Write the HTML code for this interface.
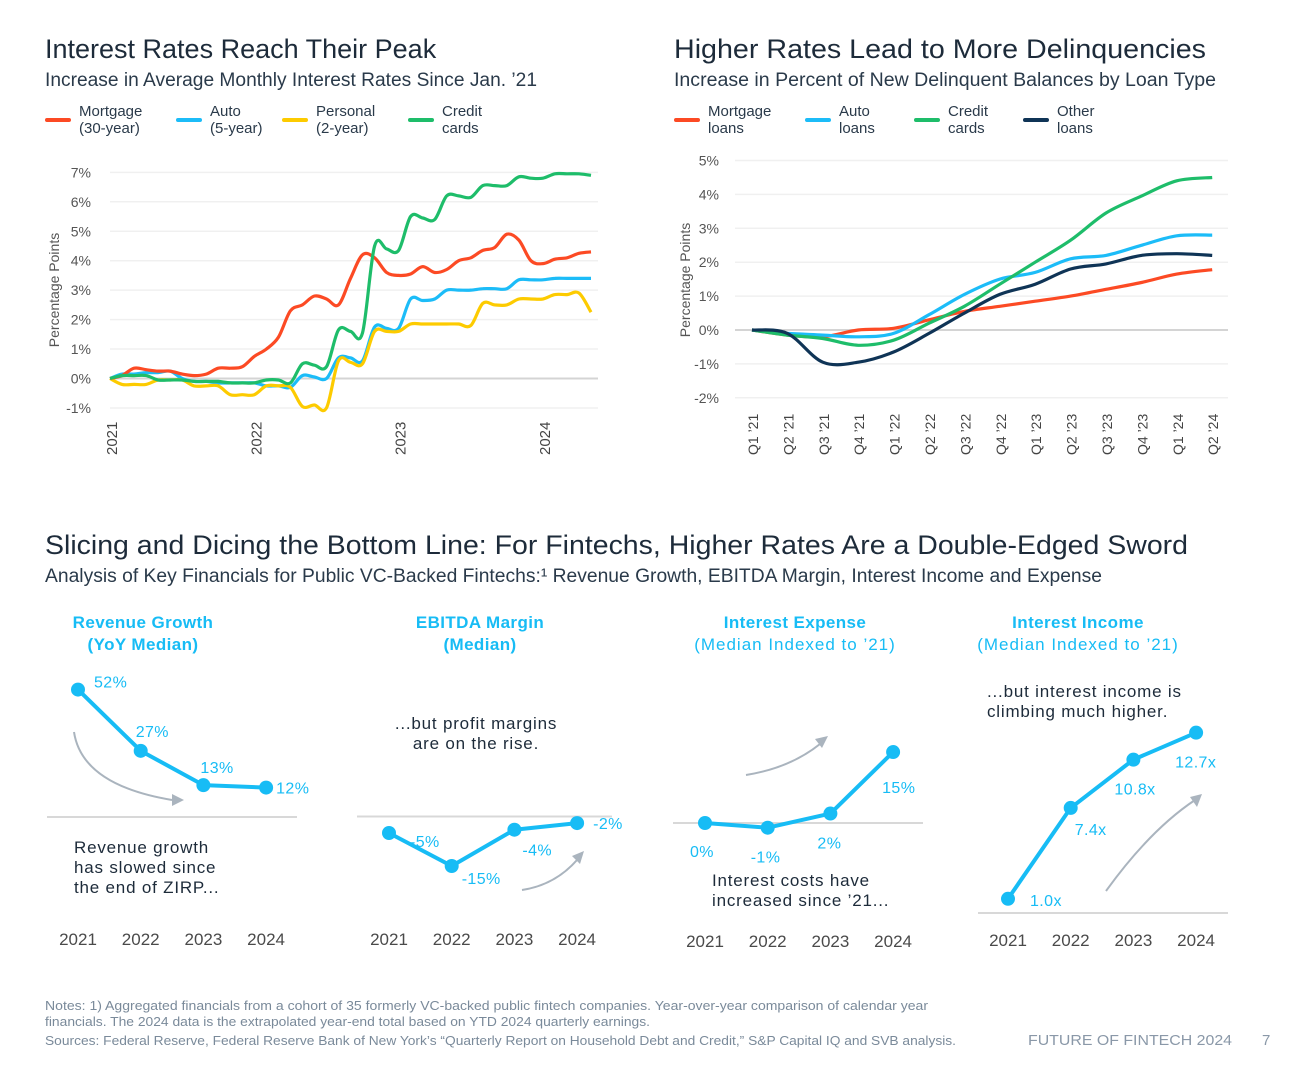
<!DOCTYPE html>
<html><head><meta charset="utf-8"><style>
html,body{margin:0;padding:0;background:#fff;}
svg{display:block;font-family:"Liberation Sans",sans-serif;}
</style></head><body>
<svg id="s" width="1292" height="1075" viewBox="0 0 1292 1075" xmlns="http://www.w3.org/2000/svg">
<g id="static">
<text x="45" y="58" font-size="27" fill="#1d2b3a">Interest Rates Reach Their Peak</text>
<text x="45" y="86" font-size="19" fill="#2a3a4a" textLength="492" lengthAdjust="spacingAndGlyphs">Increase in Average Monthly Interest Rates Since Jan. ’21</text>
<text x="674" y="58" font-size="27" fill="#1d2b3a" textLength="532" lengthAdjust="spacingAndGlyphs">Higher Rates Lead to More Delinquencies</text>
<text x="674" y="86" font-size="19" fill="#2a3a4a" textLength="542" lengthAdjust="spacingAndGlyphs">Increase in Percent of New Delinquent Balances by Loan Type</text>
<text x="45" y="554" font-size="27" fill="#1d2b3a" textLength="1143" lengthAdjust="spacingAndGlyphs">Slicing and Dicing the Bottom Line: For Fintechs, Higher Rates Are a Double-Edged Sword</text>
<text x="45" y="582" font-size="19" fill="#2a3a4a" textLength="1057" lengthAdjust="spacingAndGlyphs">Analysis of Key Financials for Public VC-Backed Fintechs:¹ Revenue Growth, EBITDA Margin, Interest Income and Expense</text>
<text x="45" y="1010" font-size="12.5" fill="#7a8a9a" textLength="883" lengthAdjust="spacingAndGlyphs">Notes: 1) Aggregated financials from a cohort of 35 formerly VC-backed public fintech companies. Year-over-year comparison of calendar year</text>
<text x="45" y="1026" font-size="12.5" fill="#7a8a9a" textLength="605" lengthAdjust="spacingAndGlyphs">financials. The 2024 data is the extrapolated year-end total based on YTD 2024 quarterly earnings.</text>
<text x="45" y="1045" font-size="12.5" fill="#7a8a9a" textLength="911" lengthAdjust="spacingAndGlyphs">Sources: Federal Reserve, Federal Reserve Bank of New York’s “Quarterly Report on Household Debt and Credit,” S&amp;P Capital IQ and SVB analysis.</text>
<text x="1028" y="1045" font-size="15" fill="#8a98a8" textLength="204" lengthAdjust="spacingAndGlyphs">FUTURE OF FINTECH 2024</text>
<text x="1262" y="1045" font-size="15" fill="#8a98a8">7</text>
</g>
<g id="left"></g><g id="right"></g><g id="bottom"></g>
</svg>
<script>
// ---------- Left chart data (monthly, Jan 2021 - May 2024) ----------
const leftTicks = [-1,0,1,2,3,4,5,6,7];
const leftYears = ["2021","2022","2023","2024"];
const mortgageRate = [0,0.1,0.35,0.3,0.25,0.25,0.15,0.1,0.15,0.35,0.35,0.4,0.75,1.0,1.4,2.3,2.5,2.8,2.7,2.5,3.4,4.2,4.1,3.6,3.5,3.55,3.8,3.6,3.7,4.0,4.1,4.35,4.45,4.9,4.7,4.0,3.9,4.05,4.1,4.25,4.3];
const autoRate = [0,0.15,0.15,0.2,0.2,0.25,0.0,-0.1,-0.1,-0.15,-0.15,-0.15,-0.15,-0.25,-0.25,-0.3,0.1,0.05,0.0,0.7,0.7,0.6,1.75,1.7,1.7,2.7,2.65,2.7,3.0,3.0,3.0,3.05,3.05,3.05,3.35,3.35,3.35,3.4,3.4,3.4,3.4];
const personalRate = [0,-0.2,-0.2,-0.2,-0.05,-0.05,-0.05,-0.25,-0.25,-0.25,-0.55,-0.55,-0.55,-0.25,-0.25,-0.3,-0.95,-0.9,-1.0,0.6,0.55,0.5,1.6,1.6,1.6,1.85,1.85,1.85,1.85,1.85,1.8,2.55,2.5,2.5,2.7,2.7,2.7,2.85,2.85,2.9,2.25];
const creditRate = [0,0.1,0.1,0.1,-0.05,-0.05,-0.05,-0.1,-0.1,-0.1,-0.15,-0.15,-0.15,-0.05,-0.05,-0.15,0.5,0.45,0.4,1.65,1.6,1.55,4.5,4.4,4.35,5.5,5.45,5.4,6.2,6.2,6.15,6.55,6.55,6.55,6.85,6.8,6.8,6.95,6.95,6.95,6.9];
// ---------- Right chart data (quarterly) ----------
const quarters = ["Q1 ’21","Q2 ’21","Q3 ’21","Q4 ’21","Q1 ’22","Q2 ’22","Q3 ’22","Q4 ’22","Q1 ’23","Q2 ’23","Q3 ’23","Q4 ’23","Q1 ’24","Q2 ’24"];
const rightTicks = [-2,-1,0,1,2,3,4,5];
const mortgageDelq = [0,-0.15,-0.2,0,0.05,0.3,0.55,0.7,0.85,1.0,1.2,1.4,1.65,1.78];
const autoDelq = [0,-0.1,-0.15,-0.2,-0.1,0.45,1.05,1.5,1.7,2.1,2.2,2.5,2.78,2.8];
const creditDelq = [0,-0.15,-0.25,-0.45,-0.3,0.2,0.7,1.35,2.0,2.65,3.45,3.95,4.4,4.5];
const otherDelq = [0,-0.1,-0.95,-0.95,-0.65,-0.1,0.5,1.05,1.35,1.8,1.95,2.2,2.25,2.2];
// ---------- Bottom panels ----------
const panelYears = ["2021","2022","2023","2024"];
const revenueGrowth = [52,27,13,12];
const revenueLabels = ["52%","27%","13%","12%"];
const ebitdaMargin = [-5,-15,-4,-2];
const ebitdaLabels = ["-5%","-15%","-4%","-2%"];
const interestExpense = [0,-1,2,15];
const expenseLabels = ["0%","-1%","2%","15%"];
const interestIncome = [1.0,7.4,10.8,12.7];
const incomeLabels = ["1.0x","7.4x","10.8x","12.7x"];

const NS="http://www.w3.org/2000/svg";
function mk(parent,tag,attrs,text){const e=document.createElementNS(NS,tag);for(const k in attrs)e.setAttribute(k,attrs[k]);if(text!==undefined)e.textContent=text;parent.appendChild(e);return e;}
function smoothPath(pts){let d="M"+pts[0][0]+","+pts[0][1];for(let i=0;i<pts.length-1;i++){const p0=pts[i-1]||pts[i],p1=pts[i],p2=pts[i+1],p3=pts[i+2]||p2;const c1x=p1[0]+(p2[0]-p0[0])/6,c1y=p1[1]+(p2[1]-p0[1])/6,c2x=p2[0]-(p3[0]-p1[0])/6,c2y=p2[1]-(p3[1]-p1[1])/6;d+=" C"+c1x.toFixed(1)+","+c1y.toFixed(1)+" "+c2x.toFixed(1)+","+c2y.toFixed(1)+" "+p2[0].toFixed(1)+","+p2[1].toFixed(1);}return d;}

const RED="#fc4a24",BLUE="#1cbcf8",YEL="#fdcb00",GRN="#1ebd6a",NAVY="#0f3456",LB="#17bcf5";

function legend(g,x,y,color,l1,l2,name){
  const e=mk(g,"g",{});
  
  
  mk(e,"line",{x1:x,y1:y,x2:x+22,y2:y,stroke:color,"stroke-width":4,"stroke-linecap":"round"});
  mk(e,"text",{x:x+32,y:y-4,"font-size":15,fill:"#2a3a4a"},l1);
  mk(e,"text",{x:x+32,y:y+13,"font-size":15,fill:"#2a3a4a"},l2);
}

// ---------- Left chart ----------
(function(){
  const g=document.getElementById("left");
  const x0=110,perYear=144.3,y0=378.5,perPt=29.45;
  const xs=i=>x0+perYear*i/12, ys=v=>y0-v*perPt;
  legend(g,47,120,RED,"Mortgage","(30-year)","legend-mortgage");
  legend(g,178,120,BLUE,"Auto","(5-year)","legend-auto");
  legend(g,284,120,YEL,"Personal","(2-year)","legend-personal");
  legend(g,410,120,GRN,"Credit","cards","legend-credit-cards");
  leftTicks.forEach(t=>{
    const l=mk(g,"line",{x1:x0,x2:598,y1:ys(t),y2:ys(t),stroke:t===0?"#d4d4d4":"#f0f0f0","stroke-width":t===0?2:1.5});
    
    
    const tx=mk(g,"text",{x:91,y:ys(t)+5,"font-size":14,fill:"#555","text-anchor":"end"},t+"%");
    
    
  });
  const yt=mk(g,"text",{transform:"translate(59,290) rotate(-90)","font-size":14,fill:"#555","text-anchor":"middle"},"Percentage Points");
  
  
  leftYears.forEach((y,i)=>{
    const t=mk(g,"text",{transform:"translate("+(x0+perYear*i+7)+",455) rotate(-90)","font-size":15,fill:"#444"},y);
    
    
  });
  [[autoRate,BLUE,"auto-line"],[personalRate,YEL,"personal-line"],[mortgageRate,RED,"mortgage-line"],[creditRate,GRN,"credit-cards-line"]].forEach(s=>{
    const p=mk(g,"path",{d:smoothPath(s[0].map((v,i)=>[xs(i),ys(v)])),fill:"none",stroke:s[1],"stroke-width":3.2,"stroke-linejoin":"round"});
    
    
  });
})();

// ---------- Right chart ----------
(function(){
  const g=document.getElementById("right");
  const x0=752,step=35.4,y0=330,perPt=33.9;
  const xs=i=>x0+step*i, ys=v=>y0-v*perPt;
  legend(g,676,120,RED,"Mortgage","loans","legend-mortgage-loans");
  legend(g,807,120,BLUE,"Auto","loans","legend-auto-loans");
  legend(g,916,120,GRN,"Credit","cards","legend-credit-cards-loans");
  legend(g,1025,120,NAVY,"Other","loans","legend-other-loans");
  rightTicks.forEach(t=>{
    const l=mk(g,"line",{x1:735,x2:1228,y1:ys(t),y2:ys(t),stroke:t===0?"#d4d4d4":"#f0f0f0","stroke-width":t===0?2:1.5});
    
    
    const tx=mk(g,"text",{x:719,y:ys(t)+5,"font-size":14,fill:"#555","text-anchor":"end"},t===0?"0%":t+"%");
    
    
  });
  const yt=mk(g,"text",{transform:"translate(690,280) rotate(-90)","font-size":14,fill:"#555","text-anchor":"middle"},"Percentage Points");
  
  
  quarters.forEach((q,i)=>{
    const t=mk(g,"text",{transform:"translate("+(xs(i)+6)+",455) rotate(-90)","font-size":14,fill:"#444"},q);
    
    
  });
  [[mortgageDelq,RED,"mortgage-loans-line"],[autoDelq,BLUE,"auto-loans-line"],[creditDelq,GRN,"credit-cards-delinquency-line"],[otherDelq,NAVY,"other-loans-line"]].forEach(s=>{
    const p=mk(g,"path",{d:smoothPath(s[0].map((v,i)=>[xs(i),ys(v)])),fill:"none",stroke:s[1],"stroke-width":3.2});
    
    
  });
})();

// ---------- Bottom panels ----------
(function(){
  const g=document.getElementById("bottom");
  function panel(cfg){
    const pg=mk(g,"g",{});
    
    
    const t1=mk(pg,"text",{x:cfg.cx,y:628,"font-size":17,fill:LB,"text-anchor":"middle","font-weight":"bold","letter-spacing":"0.4"},cfg.t1);
    
    
    const t2=mk(pg,"text",{x:cfg.cx,y:650,"font-size":17,fill:LB,"text-anchor":"middle","font-weight":cfg.t2bold?"bold":"normal","letter-spacing":cfg.t2bold?"0.4":"1"},cfg.t2);
    
    
    const bl=mk(pg,"line",{x1:cfg.bx1,x2:cfg.bx2,y1:cfg.base,y2:cfg.base,stroke:"#d8d8d8","stroke-width":2});
    
    
    const xs=i=>cfg.x0+62.7*i, ys=v=>cfg.base-(v-cfg.zero)*cfg.k;
    const pts=cfg.vals.map((v,i)=>[xs(i),ys(v)]);
    const ln=mk(pg,"polyline",{points:pts.map(p=>p.join(",")).join(" "),fill:"none",stroke:LB,"stroke-width":4,"stroke-linejoin":"round"});
    
    
    pts.forEach((p,i)=>{
      const c=mk(pg,"circle",{cx:p[0],cy:p[1],r:7,fill:LB});
      
      
      const lb=mk(pg,"text",{x:p[0]+cfg.lo[i][0],y:p[1]+cfg.lo[i][1],"font-size":16,fill:LB,"letter-spacing":"0.4"},cfg.labels[i]);
      
      
      const yr=mk(pg,"text",{x:p[0],y:cfg.yy,"font-size":17,fill:"#4a4a4a","text-anchor":"middle"},panelYears[i]);
      
      
    });
    cfg.note.forEach((n,i)=>{
      const nt=mk(pg,"text",{x:cfg.nx,y:cfg.ny+i*20,"font-size":17,fill:"#1d2b3a","text-anchor":cfg.na||"start","letter-spacing":"0.8"},n);
      
      
    });
    const ar=mk(pg,"path",{d:cfg.arrow,fill:"none",stroke:"#aab4be","stroke-width":2});
    
    
    const ah=mk(pg,"path",{d:cfg.head,fill:"#aab4be"});
    
    
  }
  panel({name:"revenue-growth-panel",cx:143,t1:"Revenue Growth",t2:"(YoY Median)",t2bold:true,bx1:47,bx2:297,base:817,zero:0,k:2.45,x0:78,vals:revenueGrowth,labels:revenueLabels,
    lo:[[16,-2],[-5,-14],[-3,-12],[10,6]],yy:945,note:["Revenue growth","has slowed since","the end of ZIRP..."],nx:74,ny:853,
    arrow:"M74,732 Q82,785 172,800",head:"M184,800 L172,794 L172,806 Z"});
  panel({name:"ebitda-margin-panel",cx:480,t1:"EBITDA Margin",t2:"(Median)",t2bold:true,bx1:357,bx2:612,base:816.5,zero:0,k:3.3,x0:389,vals:ebitdaMargin,labels:ebitdaLabels,
    lo:[[21,14],[10,18],[8,26],[16,6]],yy:945,note:["...but profit margins","are on the rise."],nx:476,ny:729,na:"middle",
    arrow:"M522,890 Q555,885 577,860",head:"M584,851 L572,856 L580,864 Z"});
  panel({name:"interest-expense-panel",cx:795,t1:"Interest Expense",t2:"(Median Indexed to ’21)",bx1:673,bx2:923,base:823,zero:0,k:4.73,x0:705,vals:interestExpense,labels:expenseLabels,
    lo:[[-15,34],[-17,35],[-13,35],[-11,41]],yy:947,note:["Interest costs have","increased since ’21..."],nx:712,ny:886,
    arrow:"M746,775 Q790,768 820,744",head:"M828,736 L815,739 L822,748 Z"});
  panel({name:"interest-income-panel",cx:1078,t1:"Interest Income",t2:"(Median Indexed to ’21)",bx1:978,bx2:1228,base:913,zero:0,k:14.2,x0:1008,vals:interestIncome,labels:incomeLabels,
    lo:[[22,7],[4,27],[-19,35],[-21,35]],yy:946,note:["...but interest income is","climbing much higher."],nx:987,ny:697,
    arrow:"M1106,891 Q1150,830 1195,800",head:"M1202,794 L1190,797 L1197,807 Z"});
})();
</script>
</body></html>
